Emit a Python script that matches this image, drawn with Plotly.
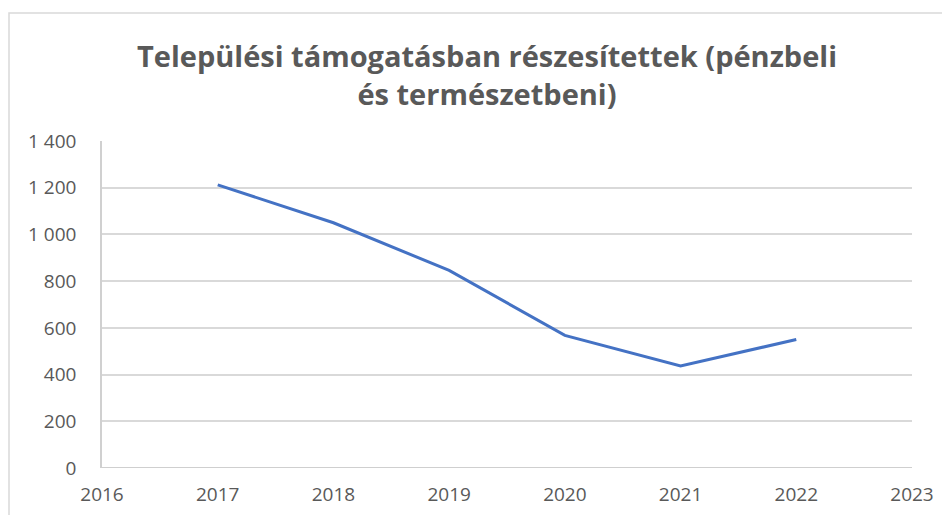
import plotly.graph_objects as go

years = [2017, 2018, 2019, 2020, 2021, 2022]
values = [1212, 1050, 846, 568, 437, 550]
title_text = "Települési támogatásban részesítettek (pénzbeli<br>és természetbeni)"

OFF = 8  # page body margin
W, H = 942, 507
L, R, T, B = 102 - OFF, 38, 141 - OFF, 47
pw, ph = W - L - R, H - T - B


def px_x(p):
    return (p - OFF - L) / pw


def px_y(p):
    return (OFF + H - B - p) / ph


fig = go.Figure()
fig.add_trace(go.Scatter(x=years, y=values, mode="lines",
                         line=dict(color="#4472C4", width=3), hoverinfo="x+y"))

fig.add_shape(type="rect", xref="paper", yref="paper",
              x0=px_x(9), x1=px_x(970), y0=px_y(540), y1=px_y(13),
              line=dict(color="#d9d9d9", width=1.5), fillcolor="rgba(0,0,0,0)")
fig.add_shape(type="line", xref="paper", yref="y", x0=0, x1=1, y0=0, y1=0,
              line=dict(color="#bfbfbf", width=1.5))

fig.update_layout(
    width=W, height=H,
    margin=dict(l=L, r=R, t=T, b=B),
    paper_bgcolor="white", plot_bgcolor="white",
    separators=", ",
    showlegend=False,
    title=dict(text=title_text, x=(487 - OFF) / W, xanchor="center", xref="container",
               y=1 - (67 - OFF) / H, yanchor="middle", yref="container",
               font=dict(family="Open Sans", size=29, color="#595959", weight="bold")),
    xaxis=dict(range=[2016, 2023], tickmode="linear", tick0=2016, dtick=1,
               showgrid=False, zeroline=False, showline=False, automargin=False,
               tickfont=dict(family="Open Sans", size=19, color="#595959"),
               ticks="", ticklabelstandoff=13),
    yaxis=dict(range=[0, 1400], tickmode="linear", tick0=0, dtick=200,
               tickformat=",d", showgrid=True, gridcolor="#d9d9d9", gridwidth=1.5,
               zeroline=False, showline=True, linecolor="#d0d0d0", linewidth=1.5,
               automargin=False,
               tickfont=dict(family="Open Sans", size=19, color="#595959"),
               ticks="", ticklabelstandoff=20),
)

fig.write_html("out.html")
